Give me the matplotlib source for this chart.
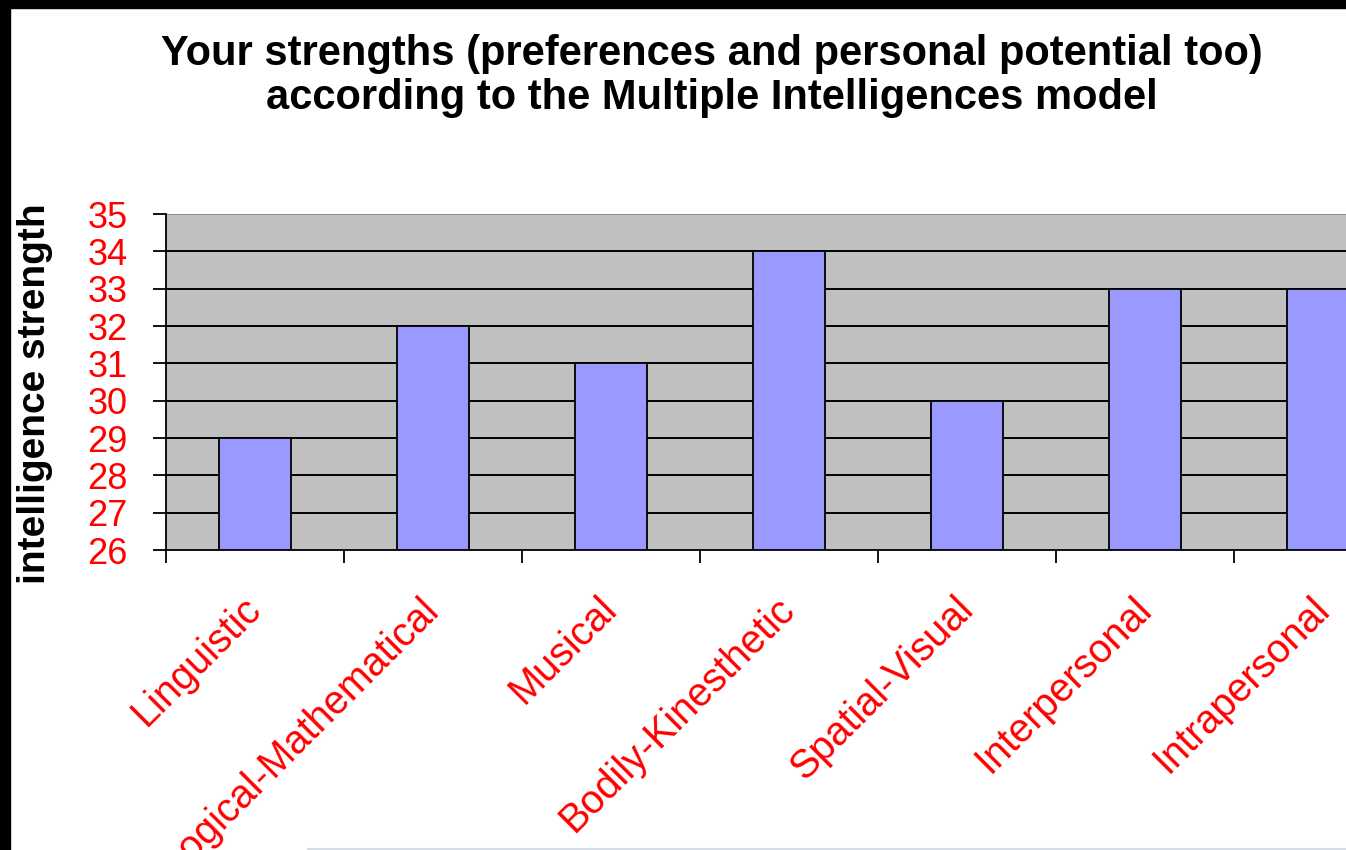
import matplotlib.pyplot as plt
from matplotlib.patches import Rectangle
from matplotlib.lines import Line2D

plt.rcParams['font.family'] = ['Liberation Sans', 'DejaVu Sans']

categories = ['Linguistic', 'Logical-Mathematical', 'Musical', 'Bodily-Kinesthetic',
              'Spatial-Visual', 'Interpersonal', 'Intrapersonal']
scores = [29, 32, 31, 34, 30, 33, 33]
y_ticks = list(range(26, 36))

W, H = 1346, 850
fig = plt.figure(figsize=(W / 100, H / 100), dpi=100)
fig.patch.set_facecolor('white')

# plot area runs past the right edge of the picture (clipped screenshot)
ax = fig.add_axes([166 / W, 1 - 550 / H, (1412 - 166) / W, (550 - 214) / H])
ax.set_facecolor('#C0C0C0')

centers = [i + 0.5 for i in range(len(categories))]
ax.bar(centers, [s - 26 for s in scores], bottom=26, width=0.4,
       color='#9999FF', edgecolor='black', linewidth=1.3, zorder=3)

ax.set_xlim(0, len(categories))
ax.set_ylim(26, 35)
ax.set_yticks(y_ticks)
ax.set_yticklabels([str(v) for v in y_ticks], color='red', fontsize=26)
for v in y_ticks[1:-1]:
    ax.axhline(v, color='black', lw=1.4, zorder=1)
ax.axhline(35, color='#8c8c8c', lw=1.4, zorder=1)

ax.set_xticks(range(len(categories) + 1))
ax.set_xticklabels([])
ax.set_xticks(centers, minor=True)
ax.set_xticklabels(categories, minor=True, rotation=45, ha='right', va='center',
                   rotation_mode='anchor', color='red', fontsize=28.5)
ax.tick_params(axis='x', which='major', direction='out', length=9, width=1.3)
ax.tick_params(axis='x', which='minor', length=0, pad=38)
ax.tick_params(axis='y', direction='out', length=9.5, width=1.3, pad=18)

for side in ['top', 'right']:
    ax.spines[side].set_visible(False)
ax.spines['left'].set_linewidth(1.3)
ax.spines['bottom'].set_linewidth(1.3)
ax.spines['left'].set_bounds(26, 35)

ax.set_ylabel('intelligence strength', fontsize=28, fontweight='bold')
ax.yaxis.set_label_coords((53 - 166) / (1412 - 166), 0.465)

fig.text(712 / W, 1 - 76 / H,
         'Your strengths (preferences and personal potential too)\n'
         'according to the Multiple Intelligences model',
         ha='center', va='center', fontsize=30, fontweight='bold',
         linespacing=1.15)

# black screenshot border on top and left
fig.patches.append(Rectangle((0, 1 - 8 / H), 1, 8 / H, transform=fig.transFigure,
                             color='black', zorder=10))
fig.patches.append(Rectangle((0, 0), 10 / W, 1, transform=fig.transFigure,
                             color='black', zorder=10))
fig.lines.append(Line2D([308 / W, 1], [1.5 / H, 1.5 / H], transform=fig.transFigure,
                        color='#d5dde6', lw=1.5))

fig.savefig('out.png', dpi=100)
